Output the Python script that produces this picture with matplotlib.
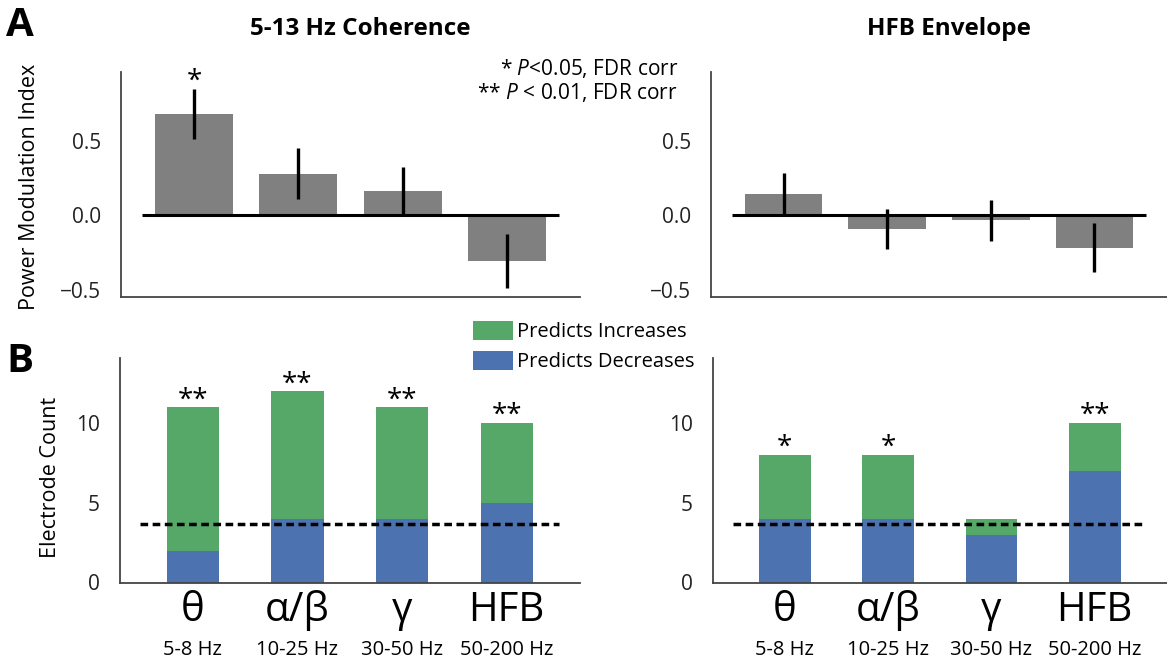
import matplotlib
matplotlib.use("Agg")
import matplotlib.pyplot as plt
from matplotlib.patches import Patch
import numpy as np

# ---------------- data ----------------
bands = ["θ", "α/β", "γ", "HFB"]
band_ranges = ["5-8 Hz", "10-25 Hz", "30-50 Hz", "50-200 Hz"]

coh_pmi = [0.676, 0.277, 0.160, -0.310]
coh_err = [0.168, 0.170, 0.160, 0.182]
coh_sig = ["*", "", "", ""]

hfb_pmi = [0.142, -0.095, -0.035, -0.218]
hfb_err = [0.140, 0.135, 0.137, 0.166]
hfb_sig = ["", "", "", ""]

coh_dec = [2, 4, 4, 5]
coh_total = [11, 12, 11, 10]
coh_count_sig = ["**", "**", "**", "**"]

hfb_dec = [4, 4, 3, 7]
hfb_total = [8, 8, 4, 10]
hfb_count_sig = ["*", "*", "", "**"]

chance_level = 3.7

titles = ["5-13 Hz Coherence", "HFB Envelope"]
legend_labels = ["Predicts Increases", "Predicts Decreases"]

# ---------------- style ----------------
plt.rcParams['font.family'] = ['Open Sans', 'DejaVu Sans']
plt.rcParams['mathtext.fontset'] = 'custom'
plt.rcParams['mathtext.rm'] = 'Open Sans'
plt.rcParams['mathtext.it'] = 'Open Sans:italic'
plt.rcParams['mathtext.bf'] = 'Open Sans:bold'

GRAY = "#808080"
GREEN = "#55A868"
BLUE = "#4C72B0"
SPINE = "#444444"

W, H = 1167, 659
fig = plt.figure(figsize=(W / 100, H / 100), dpi=100)


def px_axes(x0, y0, x1, y1):
    return fig.add_axes([x0 / W, 1 - y1 / H, (x1 - x0) / W, (y1 - y0) / H])


ax_tl = px_axes(121, 72, 580, 297)
ax_tr = px_axes(711, 72, 1167, 297)
ax_bl = px_axes(119.5, 358, 580, 582.5)
ax_br = px_axes(712.5, 358, 1167, 582.5)

x = np.arange(len(bands))


def style(ax):
    for s in ["top", "right"]:
        ax.spines[s].set_visible(False)
    for s in ["left", "bottom"]:
        ax.spines[s].set_color(SPINE)
        ax.spines[s].set_linewidth(1.3)
    ax.tick_params(axis="both", length=0, labelsize=15, colors="#222222")
    ax.tick_params(axis="y", pad=14)
    ax.set_xlim(-0.7, 3.7)


# ---- top panels ----
for ax, vals, errs, sig, title in [(ax_tl, coh_pmi, coh_err, coh_sig, titles[0]),
                                   (ax_tr, hfb_pmi, hfb_err, hfb_sig, titles[1])]:
    style(ax)
    ax.bar(x, vals, width=0.75, color=GRAY, zorder=1)
    ax.hlines(0, -0.5, 3.5, color="black", lw=2.2, zorder=2)
    ax.errorbar(x, vals, yerr=errs, fmt="none", ecolor="black", elinewidth=2.4,
                capsize=0, zorder=3)
    for xi, v, e, s in zip(x, vals, errs, sig):
        if s:
            ax.annotate(s, (xi, v + e), xytext=(0, -5), textcoords="offset points",
                        ha="center", va="bottom", fontsize=20)
    ax.set_ylim(-0.55, 0.96)
    ax.set_yticks([-0.5, 0.0, 0.5])
    ax.set_yticklabels(["\u22120.5", "0.0", "0.5"])
    ax.set_xticks([])
    ax.text(0.522, 1.19, title, transform=ax.transAxes, ha="center", va="center",
            fontsize=17.5, fontweight="bold")

ax_tl.set_ylabel("Power Modulation Index", fontsize=15.5)
ax_tl.yaxis.set_label_coords(-0.176, 0.49)

# ---- bottom panels ----
for ax, dec, tot, sig in [(ax_bl, coh_dec, coh_total, coh_count_sig),
                          (ax_br, hfb_dec, hfb_total, hfb_count_sig)]:
    style(ax)
    inc = [t - d for t, d in zip(tot, dec)]
    ax.bar(x, dec, width=0.5, color=BLUE, zorder=1)
    ax.bar(x, inc, bottom=dec, width=0.5, color=GREEN, zorder=1)
    ax.hlines(chance_level, -0.5, 3.5, color="black", lw=2.5, linestyles=(0, (2.2, 1.3)),
              zorder=3)
    for xi, t, s in zip(x, tot, sig):
        if s:
            ax.annotate(s, (xi, t), xytext=(0, -5), textcoords="offset points",
                        ha="center", va="bottom", fontsize=20)
    ax.set_ylim(0, 14.1)
    ax.set_yticks([0, 5, 10])
    ax.set_xticks(x)
    ax.set_xticklabels(bands, fontsize=29)
    ax.tick_params(axis="x", pad=5.5, colors="black")
    for xi, r in zip(x, band_ranges):
        ax.text(xi, -0.302, r, transform=ax.get_xaxis_transform(), ha="center",
                va="center", fontsize=14.5)

ax_bl.set_ylabel("Electrode Count", fontsize=15.5)
ax_bl.yaxis.set_label_coords(-0.126, 0.47)

# ---- legend ----
handles = [Patch(facecolor=GREEN, edgecolor="none"), Patch(facecolor=BLUE, edgecolor="none")]
fig.legend(handles, legend_labels, loc="upper left",
           bbox_to_anchor=(473 / W, 1 - 321 / H), frameon=False, fontsize=14.5,
           handlelength=2.0, handleheight=1.08, handletextpad=0.2,
           labelspacing=0.42, borderpad=0, borderaxespad=0)

# ---- significance key ----
fig.text(678 / W, 1 - 69 / H, "* $\\it{P}$<0.05, FDR corr", ha="right", va="center",
         fontsize=15)
fig.text(678 / W, 1 - 93 / H, "** $\\it{P}$ < 0.01, FDR corr", ha="right", va="center",
         fontsize=15)

# ---- panel letters ----
fig.text(6 / W, 1 - 6 / H, "A", ha="left", va="top", fontsize=29, fontweight="bold")
fig.text(6 / W, 1 - 342 / H, "B", ha="left", va="top", fontsize=29, fontweight="bold")

fig.savefig("out.png", dpi=100)
